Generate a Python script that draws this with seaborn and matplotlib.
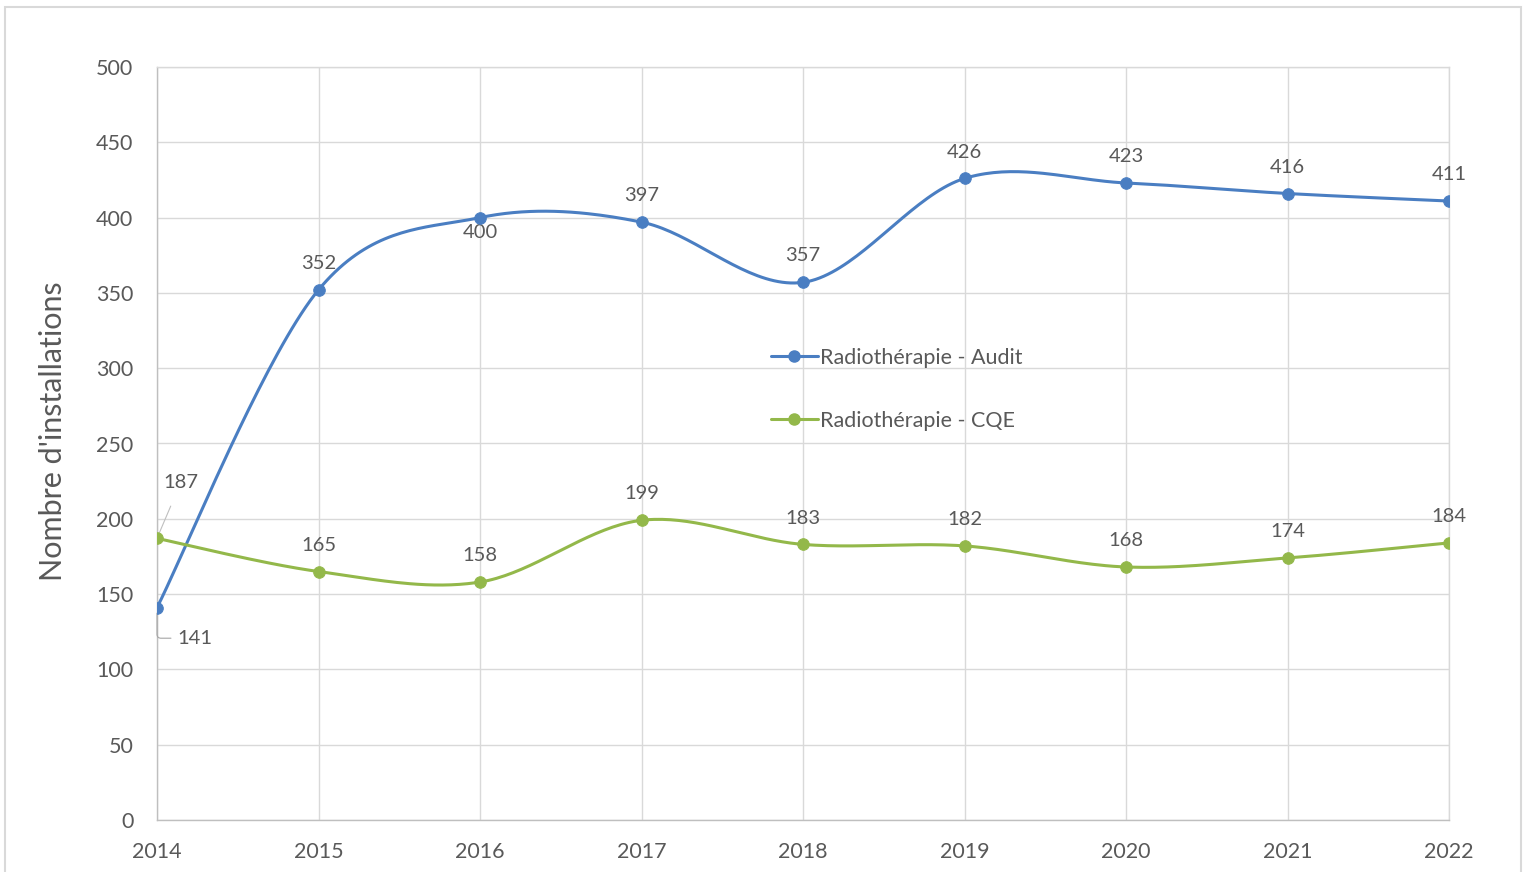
import numpy as np
import pandas as pd
import matplotlib
matplotlib.use('Agg')
import matplotlib.pyplot as plt
from matplotlib.lines import Line2D
from matplotlib.patches import Rectangle
import seaborn as sns

years = [2014, 2015, 2016, 2017, 2018, 2019, 2020, 2021, 2022]
audit = [141, 352, 400, 397, 357, 426, 423, 416, 411]
cqe = [187, 165, 158, 199, 183, 182, 168, 174, 184]

audit_name = 'Radiothérapie - Audit'
cqe_name = 'Radiothérapie - CQE'
blue = '#4A7EC2'
green = '#93B84A'
text_col = '#595959'


def smooth(x, y, n=40):
    # excel-like bezier smoothing (catmull-rom control points)
    x = np.asarray(x, float)
    y = np.asarray(y, float)
    px = np.concatenate([[x[0]], x, [x[-1]]])
    py = np.concatenate([[y[0]], y, [y[-1]]])
    xs, ys = [], []
    t = np.linspace(0, 1, n)
    for i in range(len(x) - 1):
        p0 = np.array([x[i], y[i]])
        p3 = np.array([x[i + 1], y[i + 1]])
        p1 = p0 + (np.array([px[i + 2], py[i + 2]]) - np.array([px[i], py[i]])) / 6
        p2 = p3 - (np.array([px[i + 3], py[i + 3]]) - np.array([px[i + 1], py[i + 1]])) / 6
        b = ((1 - t) ** 3)[:, None] * p0 + (3 * (1 - t) ** 2 * t)[:, None] * p1 \
            + (3 * (1 - t) * t ** 2)[:, None] * p2 + (t ** 3)[:, None] * p3
        xs.extend(b[:, 0])
        ys.extend(b[:, 1])
    return xs, ys


sns.set_style('white')
plt.rcParams['font.family'] = ['Lato', 'DejaVu Sans']

fig = plt.figure(figsize=(15.23, 8.72), dpi=100)
ax = fig.add_axes([157 / 1523, 1 - 820 / 872, 1292 / 1523, 753 / 872])

fig.patches.append(Rectangle((5 / 1523, -0.05), 1516 / 1523, 1 - 7 / 872 + 0.05,
                             transform=fig.transFigure, fill=False,
                             edgecolor='#d9d9d9', linewidth=1.5, zorder=0))

for vals, col in [(audit, blue), (cqe, green)]:
    sx, sy = smooth(years, vals)
    curve = pd.DataFrame({'x': sx, 'y': sy})
    sns.lineplot(data=curve, x='x', y='y', ax=ax, color=col, linewidth=2.2,
                 sort=False, estimator=None, zorder=3)
    pts = pd.DataFrame({'x': years, 'y': vals})
    sns.scatterplot(data=pts, x='x', y='y', ax=ax, color=col, s=70,
                    edgecolor=col, zorder=4)

ax.set_xlim(2014, 2022)
ax.set_ylim(0, 500)
ax.set_xticks(years)
ax.set_yticks(range(0, 501, 50))
ax.grid(True, color='#d9d9d9', linewidth=1)
ax.set_axisbelow(True)
for s in ax.spines.values():
    s.set_color('#d9d9d9')
    s.set_linewidth(1)
ax.spines['bottom'].set_color('#bfbfbf')
ax.spines['left'].set_color('#bfbfbf')
ax.tick_params(axis='both', length=0, labelsize=15.5, labelcolor=text_col)
ax.tick_params(axis='x', pad=16)
ax.tick_params(axis='y', pad=17)
ax.set_xlabel('')
ax.set_ylabel("Nombre d'installations", fontsize=22, color=text_col)
ax.yaxis.set_label_coords(-0.07, 0.516)

# data labels
for i, (yr, v) in enumerate(zip(years, audit)):
    if i == 0:
        ax.annotate(str(v), (yr, v), xytext=(27, -22), textcoords='offset points',
                    ha='center', va='center', fontsize=14.5, color=text_col,
                    arrowprops=dict(arrowstyle='-', color='#a6a6a6', lw=0.8,
                                    connectionstyle='angle,angleA=0,angleB=-90,rad=4',
                                    shrinkA=2, shrinkB=4))
    elif yr == 2016:
        ax.annotate(str(v), (yr, v), xytext=(0, -11), textcoords='offset points',
                    ha='center', va='center', fontsize=14.5, color=text_col)
    else:
        ax.annotate(str(v), (yr, v), xytext=(0, 19), textcoords='offset points',
                    ha='center', va='center', fontsize=14.5, color=text_col)

for i, (yr, v) in enumerate(zip(years, cqe)):
    if i == 0:
        ax.annotate(str(v), (yr, v), xytext=(17, 40), textcoords='offset points',
                    ha='center', va='center', fontsize=14.5, color=text_col,
                    arrowprops=dict(arrowstyle='-', color='#bfbfbf', lw=0.8,
                                    shrinkA=9, shrinkB=3))
    else:
        ax.annotate(str(v), (yr, v), xytext=(0, 19), textcoords='offset points',
                    ha='center', va='center', fontsize=14.5, color=text_col)

handles = [Line2D([], [], color=blue, lw=2.2, marker='o', markersize=8),
           Line2D([], [], color=green, lw=2.2, marker='o', markersize=8)]
leg = ax.legend(handles, [audit_name, cqe_name], loc='center left',
                bbox_to_anchor=(0.46, 0.572), frameon=False, fontsize=15.5,
                labelspacing=2.0, handlelength=2.2, handletextpad=0.1,
                labelcolor=text_col)

fig.savefig('out.png', dpi=100)
